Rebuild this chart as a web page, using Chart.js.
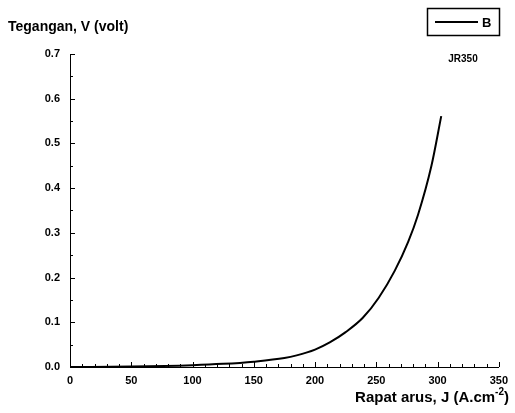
<!DOCTYPE html>
<html>
<head>
<meta charset="utf-8">
<script src="https://cdn.jsdelivr.net/npm/chart.js@4.4.1/dist/chart.umd.min.js"></script>
<style>
  html, body { margin: 0; padding: 0; background: #fff; }
  #wrap { width: 515px; height: 413px; }
</style>
</head>
<body>
<div id="wrap"><canvas id="chart" width="515" height="413"></canvas></div>
<script>
// Current density J (A.cm^-2) vs cell voltage V
const currentDensity = [0, 50, 100, 125, 150, 175, 185, 200, 212, 225, 239, 252, 265, 276, 284, 295, 303];
const voltage = [0, 0.001, 0.004, 0.007, 0.012, 0.02, 0.026, 0.039, 0.055, 0.078, 0.11, 0.155, 0.215, 0.28, 0.34, 0.45, 0.561];
const seriesName = 'B';
const sampleName = 'JR350';
const xTicks = [0, 50, 100, 150, 200, 250, 300, 350];
const yTicks = [0.0, 0.1, 0.2, 0.3, 0.4, 0.5, 0.6, 0.7];

const tickFont = { family: '"Liberation Sans", Arial, sans-serif', size: 11, weight: 'bold' };

// inward tick marks, majors and minors
const innerTicks = {
    id: 'innerTicks',
    afterDraw(chart) {
        const { ctx, scales: { x, y } } = chart;
        ctx.save();
        ctx.strokeStyle = '#000';
        ctx.lineWidth = 1;
        ctx.beginPath();
        for (let v = 0; v <= 350; v += 10) {
            const px = Math.round(x.getPixelForValue(v)) + 0.5;
            const len = v % 50 === 0 ? 5 : 3;
            ctx.moveTo(px, y.bottom);
            ctx.lineTo(px, y.bottom - len);
        }
        for (let i = 0; i <= 14; i++) {
            const py = Math.round(y.getPixelForValue(i * 0.05)) + 0.5;
            const len = i % 2 === 0 ? 5 : 3;
            ctx.moveTo(x.left, py);
            ctx.lineTo(x.left + len, py);
        }
        ctx.stroke();
        ctx.restore();
    }
};

// axis titles, legend box and sample label
const annotations = {
    id: 'annotations',
    afterDraw(chart) {
        const ctx = chart.ctx;
        ctx.save();
        ctx.fillStyle = '#000';
        ctx.textBaseline = 'alphabetic';

        ctx.font = 'bold 14px "Liberation Sans", Arial, sans-serif';
        ctx.textAlign = 'left';
        ctx.fillText('Tegangan, V (volt)', 8, 31);

        // x title with superscript
        const main = 'Rapat arus, J (A.cm';
        const sup = '-2';
        const tail = ')';
        ctx.font = 'bold 15px "Liberation Sans", Arial, sans-serif';
        const wMain = ctx.measureText(main).width;
        const wTail = ctx.measureText(tail).width;
        ctx.font = 'bold 10px "Liberation Sans", Arial, sans-serif';
        const wSup = ctx.measureText(sup).width;
        const right = 509;
        let xs = right - wMain - wSup - wTail;
        ctx.font = 'bold 15px "Liberation Sans", Arial, sans-serif';
        ctx.fillText(main, xs, 402);
        ctx.font = 'bold 10px "Liberation Sans", Arial, sans-serif';
        ctx.fillText(sup, xs + wMain, 395);
        ctx.font = 'bold 15px "Liberation Sans", Arial, sans-serif';
        ctx.fillText(tail, xs + wMain + wSup, 402);

        // legend
        ctx.strokeStyle = '#000';
        ctx.lineWidth = 1.5;
        ctx.strokeRect(427.5, 8.5, 72, 27);
        ctx.lineWidth = 2;
        ctx.beginPath();
        ctx.moveTo(435, 22);
        ctx.lineTo(478, 22);
        ctx.stroke();
        ctx.font = 'bold 13px "Liberation Sans", Arial, sans-serif';
        ctx.fillText(seriesName, 482, 27);

        ctx.font = 'bold 10px "Liberation Sans", Arial, sans-serif';
        ctx.textAlign = 'center';
        ctx.fillText(sampleName, 463, 62);
        ctx.restore();
    }
};

new Chart(document.getElementById('chart'), {
    type: 'line',
    data: {
        datasets: [{
            label: seriesName,
            data: currentDensity.map((j, i) => ({ x: j, y: voltage[i] })),
            borderColor: '#000',
            borderWidth: 2,
            pointRadius: 0,
            cubicInterpolationMode: 'monotone',
            fill: false
        }]
    },
    options: {
        responsive: false,
        animation: false,
        layout: { padding: { left: 0, right: 10, top: 54, bottom: 0 } },
        scales: {
            x: {
                type: 'linear',
                min: 0,
                max: 350,
                afterBuildTicks: s => { s.ticks = xTicks.map(v => ({ value: v })); },
                afterFit: s => { s.height = 46; },
                grid: { display: false, drawTicks: false },
                border: { display: true, color: '#000', width: 1 },
                ticks: { color: '#000', font: tickFont, padding: 7, maxRotation: 0 }
            },
            y: {
                type: 'linear',
                min: 0,
                max: 0.7,
                afterBuildTicks: s => { s.ticks = yTicks.map(v => ({ value: v })); },
                afterFit: s => { s.width = 70; },
                grid: { display: false, drawTicks: false },
                border: { display: true, color: '#000', width: 1 },
                ticks: { color: '#000', font: tickFont, padding: 10, callback: v => v.toFixed(1) }
            }
        },
        plugins: {
            legend: { display: false },
            tooltip: { enabled: false }
        }
    },
    plugins: [innerTicks, annotations]
});
</script>
</body>
</html>
